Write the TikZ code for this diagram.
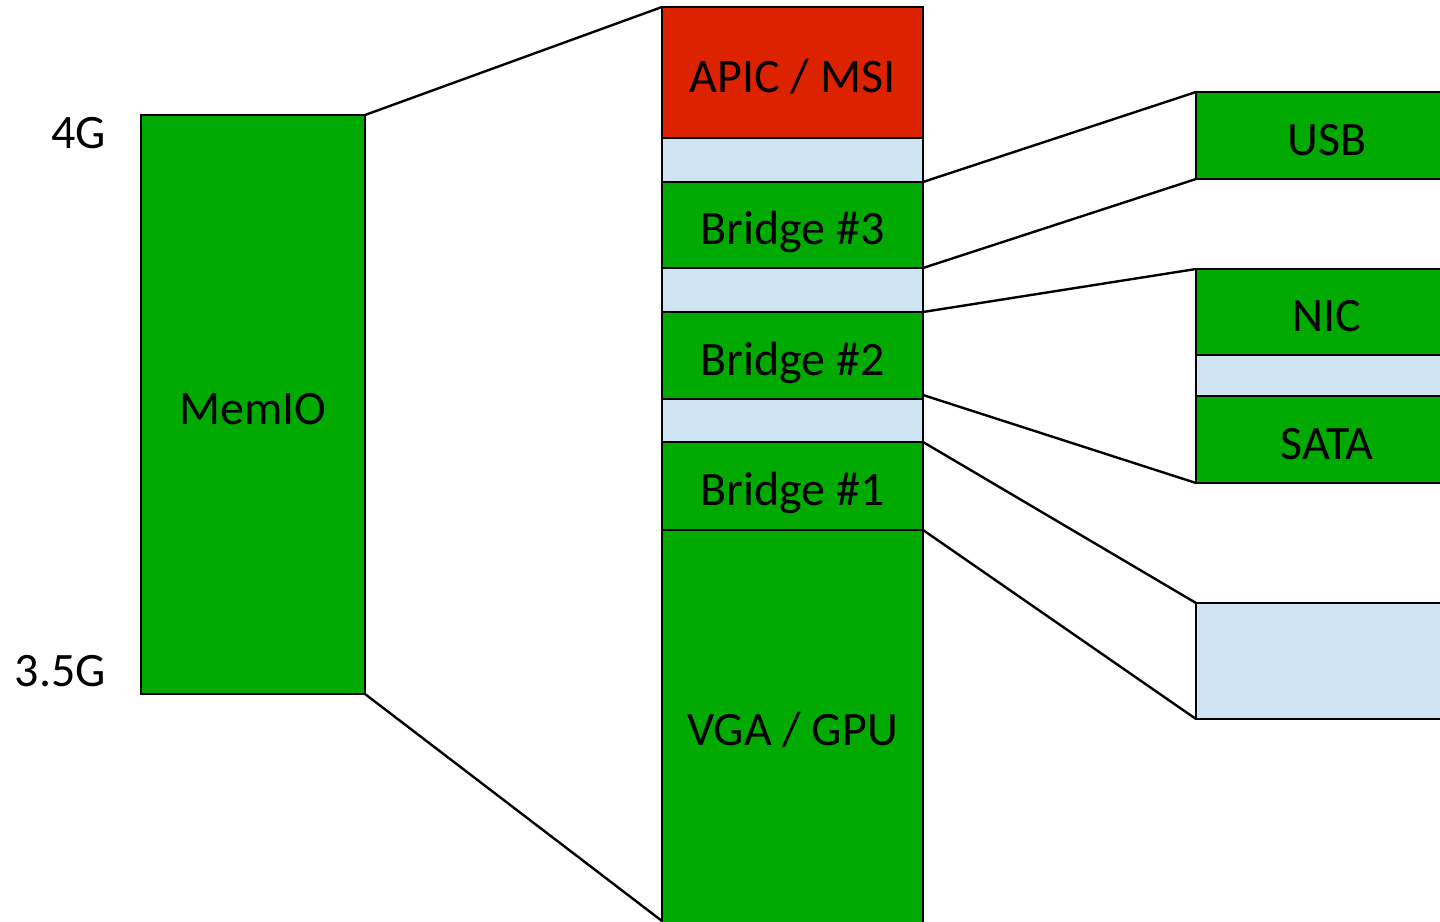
\documentclass[tikz,border=0pt]{standalone}
\usepackage{fontspec}
\setmainfont{Carlito}
\definecolor{memgreen}{RGB}{0,170,0}
\definecolor{memred}{RGB}{221,34,0}
\definecolor{memblue}{RGB}{207,229,243}
\begin{document}
\begin{tikzpicture}[x=1pt,y=-1pt,
  blk/.style={draw=black,line width=2.4pt,anchor=north west,inner sep=0pt,outer sep=0pt,
    minimum width=#1,font=\fontsize{48}{56}\selectfont,text=black,
    text height=39pt,text depth=0pt},
  blk/.default=261pt,
  conn/.style={draw=black,line width=2.4pt},
  lbl/.style={font=\fontsize{48}{56}\selectfont,anchor=east,inner sep=0pt,
    text height=31pt,text depth=0pt}]
\useasboundingbox (0,0) rectangle (1440,921);
\clip (0,0) rectangle (1440,921);
% left
\node[blk=224pt,fill=memgreen,minimum height=579pt] (memio) at (141,115) {MemIO};
\node[lbl] (l4g) at (106,133) {4G};
\node[lbl] (l35g) at (106,671) {3.5G};
% middle column
\node[blk,fill=memred,minimum height=131pt] (apic) at (662,7) {APIC / MSI};
\node[blk,fill=memblue,minimum height=44pt] (gapa) at (662,138) {};
\node[blk,fill=memgreen,minimum height=86pt] (br3) at (662,182) {Bridge \#3};
\node[blk,fill=memblue,minimum height=44pt] (gapb) at (662,268) {};
\node[blk,fill=memgreen,minimum height=87pt] (br2) at (662,312) {Bridge \#2};
\node[blk,fill=memblue,minimum height=43pt] (gapc) at (662,399) {};
\node[blk,fill=memgreen,minimum height=88pt] (br1) at (662,442) {Bridge \#1};
\node[blk,fill=memgreen,minimum height=400pt,text height=31pt] (vga) at (662,530) {VGA / GPU};
% right column
\node[blk=262pt,fill=memgreen,minimum height=87pt] (usb) at (1196,92) {USB};
\node[blk=262pt,fill=memgreen,minimum height=86pt] (nic) at (1196,269) {NIC};
\node[blk=262pt,fill=memblue,minimum height=41pt] (gapd) at (1196,355) {};
\node[blk=262pt,fill=memgreen,minimum height=87pt] (sata) at (1196,396) {SATA};
\node[blk=262pt,fill=memblue,minimum height=116pt] (vgawin) at (1196,603) {};
% connectors
\draw[conn] (memio.north east) -- (apic.north west);
\draw[conn] (memio.south east) -- (vga.north west |- 0,921);
\draw[conn] (br3.north east) -- (usb.north west);
\draw[conn] (br3.south east) -- (usb.south west);
\draw[conn] (br2.north east) -- (nic.north west);
\draw[conn] ([yshift=4pt]br2.south east) -- (sata.south west);
\draw[conn] (br1.north east) -- (vgawin.north west);
\draw[conn] (br1.south east) -- (vgawin.south west);
\end{tikzpicture}
\end{document}
